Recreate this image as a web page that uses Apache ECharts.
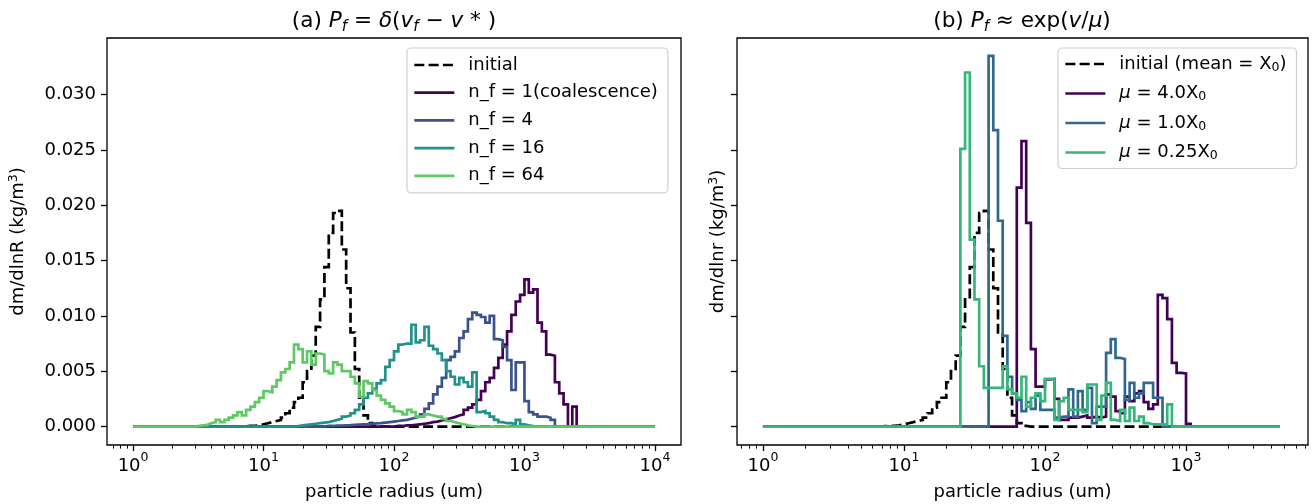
<!DOCTYPE html>
<html>
<head>
<meta charset="UTF-8">
<title>particle size distribution</title>
<script src="https://cdn.jsdelivr.net/npm/echarts@6/dist/echarts.min.js"></script>
<style>
  body { margin: 0; background: #fff; }
  #chart { width: 1314px; height: 504px; }
</style>
</head>
<body>
<div id="chart"></div>
<script>
// bin values are read off the picture, in units of 1e-3 kg/m^3
// each list starts at bin index *From (log grid, 30 bins per decade from r = 1 um)
var unit = 1e-3;
var binsPerDecade = 30;
var leftBins = 120;   // 1 .. 1e4 um
var rightBins = 110;  // 1 .. ~4.6e3 um

var initialFrom = 25;
var initial = [0.03, 0.05, 0.07, 0.1, 0.2, 0.3, 0.4, 0.5, 0.6, 0.8, 1.2, 1.7, 2.2, 2.6, 4.0, 5.0,
  6.4, 9.0, 11.5, 14.4, 17.5, 19.3, 19.5, 16.0, 12.5, 8.5, 5.2, 2.6, 1.0, 0.3, 0.05];

var nf1From = 60;
var nf1 = [0.05, 0.05, 0.1, 0.1, 0.15, 0.2, 0.25, 0.3, 0.4, 0.45, 0.55, 0.65, 0.75, 0.85, 1.0, 1.1,
  1.5, 1.7, 2.0, 2.4, 3.2, 4.0, 4.4, 5.3, 6.2, 7.4, 8.6, 10.1, 11.3, 11.9, 13.3, 12.1, 12.4, 9.4,
  8.6, 6.5, 6.4, 4.0, 3.0, 2.0, 0, 1.8];

var nf4From = 44;
var nf4 = [0.05, 0.05, 0.08, 0.08, 0.1, 0.12, 0.15, 0.18, 0.2, 0.22, 0.25, 0.28, 0.3, 0.35, 0.4,
  0.45, 0.5, 0.55, 0.6, 0.7, 0.8, 0.9, 1.1, 1.6, 2.1, 2.9, 3.6, 4.4, 6.0, 6.3, 6.8, 8.0, 8.6, 9.7,
  10.3, 10.1, 9.9, 9.4, 10.0, 7.9, 7.8, 7.2, 6.0, 3.3, 5.8, 5.8, 2.3, 1.3, 1.1, 0.9, 0.9, 0.8, 0.6];

var nf16From = 37;
var nf16 = [0.05, 0.1, 0.15, 0.2, 0.25, 0.3, 0.35, 0.4, 0.5, 0.6, 0.7, 0.9, 1.0, 1.2, 1.5, 2.0, 2.6,
  3.0, 3.4, 3.9, 4.2, 5.4, 6.0, 6.8, 7.4, 7.5, 7.5, 9.2, 7.6, 7.8, 9.0, 7.3, 7.0, 6.6, 6.0, 5.0,
  4.5, 3.8, 4.4, 4.0, 3.6, 4.9, 1.3, 1.4, 1.2, 0.9, 0.6, 0.4, 0.3, 0.3, 0.2, 0.6, 0.2, 0.1, 0.05];

var nf64From = 14;
var nf64 = [0.05, 0.1, 0.15, 0.3, 0.4, 0.6, 0.4, 0.6, 0.8, 1.0, 1.3, 1.0, 1.5, 1.8, 2.2, 2.6, 3.2,
  3.1, 3.6, 4.2, 4.9, 5.2, 5.8, 7.4, 7.0, 5.8, 6.8, 5.6, 6.6, 6.5, 5.0, 4.8, 5.8, 5.6, 5.0, 5.0,
  4.5, 3.9, 2.7, 4.1, 3.9, 3.3, 2.8, 2.4, 2.1, 1.8, 1.4, 1.3, 1.1, 1.5, 1.3, 0.9, 0.9, 1.1, 1.0,
  0.9, 0.9, 0.7, 0.5, 0.4, 0.3, 0.2, 0.1, 0.05];

var mu4From = 54;
var mu4 = [21.6, 25.8, 18.4, 7.0, 3.6, 3.6, 4.25, 4.3, 2.5, 0.6, 0.6, 0.8, 0.8, 0.9, 1.0, 0.8, 0.9,
  0.8, 0.9, 2.9, 2.7, 1.4, 1.2, 2.7, 2.3, 3.0, 3.2, 2.2, 1.6, 2.0, 11.9, 11.6, 9.7, 5.75, 4.85,
  4.8, 0.25];

var mu1From = 48;
var mu1 = [33.5, 26.8, 18.6, 8.2, 4.5, 3.0, 2.4, 1.4, 2.2, 1.6, 2.8, 1.5, 1.5, 1.5, 0.8, 0.9, 0.9,
  3.35, 0.9, 3.2, 1.5, 3.5, 0.3, 1.8, 1.8, 6.65, 7.9, 6.2, 6.1, 2.4, 3.95, 2.6, 3.0, 3.95, 3.95,
  2.6, 2.6];

var mu025From = 42;
var mu025 = [25.1, 32.0, 16.9, 11.5, 5.45, 3.5, 3.5, 3.5, 3.5, 5.45, 3.35, 3.0, 2.6, 4.5, 1.8, 2.6,
  3.0, 2.3, 4.3, 4.3, 0.6, 2.3, 2.6, 1.5, 1.5, 1.5, 1.3, 3.8, 3.8, 0.6, 2.8, 3.95, 0.6, 0.5, 1.5,
  0.5, 1.7, 0.5, 0.9, 0.3, 0.2, 0.2, 0.2, 0.2, 2.0];

var leftNames = ['initial', 'n_f = 1(coalescence)', 'n_f = 4', 'n_f = 16', 'n_f = 64'];
var rightNames = ['initial (mean = X₀)', 'μ = 4.0X₀', 'μ = 1.0X₀', 'μ = 0.25X₀'];
var leftColors = ['#000000', '#440154', '#3b528b', '#21918c', '#5ec962'];
var rightColors = ['#000000', '#440154', '#31688e', '#35b779'];
var yTicks = [0, 0.005, 0.010, 0.015, 0.020, 0.025, 0.030];
var majorX = [1, 10, 100, 1000, 10000];

var FONT = 'DejaVu Sans';

// step outline: value of bin i held from edge i to edge i+1
function histLine(vals, from, nBins) {
  var pts = [];
  for (var i = 0; i <= nBins; i++) {
    var k = i - from;
    var v = (i < nBins && k >= 0 && k < vals.length) ? vals[k] : 0;
    pts.push([Math.pow(10, i / binsPerDecade), v * unit]);
  }
  return pts;
}

function minorTicks(lo, hi) {
  var out = [];
  for (var d = -1; d <= 4; d++) {
    for (var m = 2; m <= 9; m++) {
      var v = m * Math.pow(10, d);
      if (v > lo && v < hi) out.push(v);
    }
  }
  return out;
}

var leftMin = Math.pow(10, -0.2), leftMax = Math.pow(10, 4.2);
var rightMin = Math.pow(10, -0.184), rightMax = Math.pow(10, 3.865);

function xAxes(grid, lo, hi) {
  return [{
    gridIndex: grid, type: 'log', logBase: 10, min: lo, max: hi, position: 'bottom',
    axisLine: { show: false, onZero: false },
    splitLine: { show: false },
    axisTick: { customValues: majorX.filter(function (v) { return v <= hi; }), length: 6,
      lineStyle: { color: '#000', width: 1.3 } },
    axisLabel: {
      customValues: majorX.filter(function (v) { return v <= hi; }),
      margin: 6,
      formatter: function (v) {
        return '{b|10}{s|' + Math.round(Math.log10(v)) + '}';
      },
      rich: {
        b: { fontSize: 18, fontFamily: FONT, color: '#000', lineHeight: 30 },
        s: { fontSize: 12.5, fontFamily: FONT, color: '#000', lineHeight: 12, verticalAlign: 'top' }
      }
    },
    name: 'particle radius (um)', nameLocation: 'middle', nameGap: 38,
    nameTextStyle: { fontSize: 18, fontFamily: FONT, color: '#000' }
  }, {
    gridIndex: grid, type: 'log', logBase: 10, min: lo, max: hi, position: 'bottom',
    axisLine: { show: false, onZero: false },
    splitLine: { show: false },
    axisTick: { customValues: minorTicks(lo, hi), length: 3.6,
      lineStyle: { color: '#000', width: 1.0 } },
    axisLabel: { show: false }
  }];
}

function yAxis(grid, label, showLabels, gap) {
  return {
    gridIndex: grid, type: 'value', min: -0.00167, max: 0.03512,
    axisLine: { show: false, onZero: false },
    splitLine: { show: false },
    axisTick: { customValues: yTicks, length: 6, lineStyle: { color: '#000', width: 1.3 } },
    axisLabel: {
      show: showLabels, customValues: yTicks, margin: 11,
      fontSize: 18, fontFamily: FONT, color: '#000',
      formatter: function (v) { return v.toFixed(3); }
    },
    name: '{n|' + label + ' (kg/m}{s|3}{n|)}', nameLocation: 'middle', nameGap: gap,
    nameTextStyle: {
      fontFamily: FONT, color: '#000',
      rich: {
        n: { fontSize: 18, fontFamily: FONT, color: '#000', lineHeight: 22 },
        s: { fontSize: 12.5, fontFamily: FONT, color: '#000', lineHeight: 12, verticalAlign: 'top' }
      }
    }
  };
}

function lineSeries(name, color, vals, from, nBins, xi, yi, dashed) {
  return {
    type: 'line', name: name, xAxisIndex: xi, yAxisIndex: yi,
    data: histLine(vals, from, nBins),
    step: 'end', symbol: 'none', showSymbol: false, silent: true,
    color: color,
    lineStyle: { color: color, width: 2.7, type: dashed ? [10, 4.3] : 'solid', join: 'miter' },
    emphasis: { disabled: true },
    animation: false
  };
}

var series = [
  lineSeries(leftNames[0], leftColors[0], initial, initialFrom, leftBins, 0, 0, true),
  lineSeries(leftNames[1], leftColors[1], nf1, nf1From, leftBins, 0, 0, false),
  lineSeries(leftNames[2], leftColors[2], nf4, nf4From, leftBins, 0, 0, false),
  lineSeries(leftNames[3], leftColors[3], nf16, nf16From, leftBins, 0, 0, false),
  lineSeries(leftNames[4], leftColors[4], nf64, nf64From, leftBins, 0, 0, false),
  lineSeries(rightNames[0], rightColors[0], initial, initialFrom, rightBins, 2, 1, true),
  lineSeries(rightNames[1], rightColors[1], mu4, mu4From, rightBins, 2, 1, false),
  lineSeries(rightNames[2], rightColors[2], mu1, mu1From, rightBins, 2, 1, false),
  lineSeries(rightNames[3], rightColors[3], mu025, mu025From, rightBins, 2, 1, false)
];

// legend shows only the line sample, the symbol is made invisible
var legendBase = {
  orient: 'vertical', itemWidth: 40, itemHeight: 14, selectedMode: false,
  itemStyle: { opacity: 0 },
  lineStyle: { width: 2.7 },
  backgroundColor: '#fff', borderColor: '#d0d0d0', borderWidth: 1.2, borderRadius: 4
};

var legendRich = {
  i: { fontSize: 18, fontFamily: FONT, fontStyle: 'italic', color: '#000', lineHeight: 20 },
  s: { fontSize: 12.5, fontFamily: FONT, color: '#000', lineHeight: 10, verticalAlign: 'bottom' }
};

var titleRich = {
  n: { fontSize: 21.6, fontFamily: FONT, lineHeight: 28 },
  i: { fontSize: 21.6, fontFamily: FONT, fontStyle: 'italic', lineHeight: 28 },
  s: { fontSize: 15, fontFamily: FONT, fontStyle: 'italic', lineHeight: 14, verticalAlign: 'bottom' }
};

var chart = echarts.init(document.getElementById('chart'));
chart.setOption({
  animation: false,
  grid: [
    { left: 107, top: 38, width: 574, height: 407, show: true, borderColor: '#000', borderWidth: 1.3, outerBoundsMode: 'none' },
    { left: 737, top: 38, width: 571, height: 407, show: true, borderColor: '#000', borderWidth: 1.3, outerBoundsMode: 'none' }
  ],
  xAxis: xAxes(0, leftMin, leftMax).concat(xAxes(1, rightMin, rightMax)),
  yAxis: [yAxis(0, 'dm/dlnR', true, 78), yAxis(1, 'dm/dlnr', false, 8)],
  legend: [
    Object.assign({}, legendBase, {
      data: leftNames, left: 407, top: 48, itemGap: 9.7, padding: [8, 10, 8, 6],
      textStyle: { fontSize: 18, fontFamily: FONT, color: '#000', lineHeight: 18, padding: [0, 0, 0, 9] }
    }),
    Object.assign({}, legendBase, {
      data: rightNames, left: 1058, top: 48, itemGap: 9.5, padding: [6, 10, 6, 6],
      formatter: function (name) {
        return name.replace('μ', '{i|μ}').replace('₀', '{s|0}');
      },
      textStyle: { fontSize: 18, fontFamily: FONT, color: '#000', lineHeight: 20, padding: [0, 0, 0, 9], rich: legendRich }
    })
  ],
  graphic: [
    { type: 'text', x: 394, y: 21, silent: true,
      style: { text: '{n|(a) }{i|P}{s|f}{n| = }{i|δ}{n|(}{i|v}{s|f}{n| − }{i|v}{n| * )}',
        rich: titleRich, align: 'center', verticalAlign: 'middle', fill: '#000' } },
    { type: 'text', x: 1022, y: 21, silent: true,
      style: { text: '{n|(b) }{i|P}{s|f}{n| ≈ exp(}{i|v}{n|/}{i|μ}{n|)}',
        rich: titleRich, align: 'center', verticalAlign: 'middle', fill: '#000' } }
  ],
  series: series
});
</script>
</body>
</html>
